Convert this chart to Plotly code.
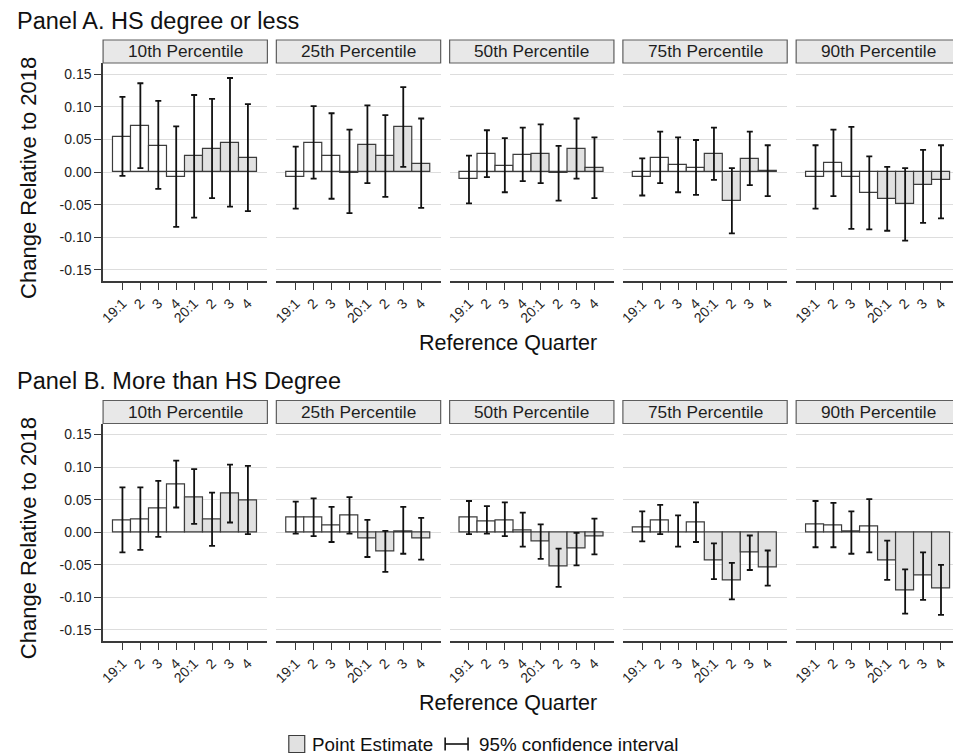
import plotly.graph_objects as go

# ---------------------------------------------------------------- data
quarters = ["19:1", "2", "3", "4", "20:1", "2", "3", "4"]
quarter_year = [2019, 2019, 2019, 2019, 2020, 2020, 2020, 2020]
percentiles = ["10th Percentile", "25th Percentile", "50th Percentile",
               "75th Percentile", "90th Percentile"]
y_tick_values = [-0.15, -0.10, -0.05, 0.0, 0.05, 0.10, 0.15]
y_tick_labels = ["-0.15", "-0.10", "-0.05", "0.00", "0.05", "0.10", "0.15"]

# Panel A. HS degree or less: point estimate, lower and upper 95% bound
a_p10_est = [0.054, 0.070, 0.040, -0.007, 0.024, 0.035, 0.044, 0.021]
a_p10_lo = [-0.006, 0.006, -0.026, -0.084, -0.070, -0.040, -0.053, -0.060]
a_p10_hi = [0.115, 0.136, 0.109, 0.070, 0.118, 0.112, 0.144, 0.104]

a_p25_est = [-0.007, 0.044, 0.024, -0.001, 0.042, 0.024, 0.069, 0.013]
a_p25_lo = [-0.056, -0.010, -0.041, -0.063, -0.017, -0.038, 0.008, -0.055]
a_p25_hi = [0.039, 0.101, 0.090, 0.065, 0.102, 0.087, 0.130, 0.082]

a_p50_est = [-0.011, 0.028, 0.009, 0.026, 0.028, -0.002, 0.036, 0.006]
a_p50_lo = [-0.048, -0.008, -0.031, -0.014, -0.017, -0.044, -0.010, -0.040]
a_p50_hi = [0.025, 0.064, 0.052, 0.068, 0.073, 0.040, 0.082, 0.053]

a_p75_est = [-0.007, 0.022, 0.011, 0.006, 0.027, -0.044, 0.020, 0.001]
a_p75_lo = [-0.036, -0.017, -0.031, -0.035, -0.012, -0.094, -0.020, -0.037]
a_p75_hi = [0.021, 0.062, 0.053, 0.049, 0.068, 0.006, 0.062, 0.041]

a_p90_est = [-0.007, 0.014, -0.008, -0.032, -0.041, -0.049, -0.020, -0.013]
a_p90_lo = [-0.056, -0.037, -0.087, -0.088, -0.090, -0.105, -0.078, -0.071]
a_p90_hi = [0.041, 0.065, 0.069, 0.024, 0.008, 0.006, 0.034, 0.041]

# Panel B. More than HS Degree
b_p10_est = [0.018, 0.020, 0.036, 0.073, 0.054, 0.019, 0.059, 0.048]
b_p10_lo = [-0.031, -0.027, -0.007, 0.038, 0.013, -0.021, 0.015, -0.003]
b_p10_hi = [0.069, 0.069, 0.079, 0.110, 0.097, 0.061, 0.104, 0.102]

b_p25_est = [0.022, 0.023, 0.011, 0.025, -0.009, -0.029, 0.001, -0.009]
b_p25_lo = [-0.002, -0.006, -0.015, -0.002, -0.038, -0.061, -0.033, -0.042]
b_p25_hi = [0.047, 0.052, 0.039, 0.054, 0.019, 0.002, 0.039, 0.022]

b_p50_est = [0.022, 0.017, 0.018, 0.003, -0.014, -0.053, -0.025, -0.007]
b_p50_lo = [-0.003, -0.002, -0.006, -0.022, -0.041, -0.084, -0.051, -0.034]
b_p50_hi = [0.048, 0.040, 0.046, 0.030, 0.012, -0.025, -0.001, 0.021]

b_p75_est = [0.008, 0.018, -0.001, 0.015, -0.044, -0.074, -0.031, -0.054]
b_p75_lo = [-0.014, -0.003, -0.022, -0.015, -0.072, -0.103, -0.058, -0.082]
b_p75_hi = [0.032, 0.042, 0.026, 0.046, -0.017, -0.047, -0.005, -0.028]

b_p90_est = [0.012, 0.011, 0.001, 0.009, -0.043, -0.090, -0.067, -0.087]
b_p90_lo = [-0.023, -0.023, -0.033, -0.031, -0.073, -0.125, -0.104, -0.127]
b_p90_hi = [0.048, 0.045, 0.032, 0.051, -0.013, -0.057, -0.031, -0.050]

panel_titles = ["Panel A. HS degree or less", "Panel B. More than HS Degree"]
panel_series = [
    [(a_p10_est, a_p10_lo, a_p10_hi), (a_p25_est, a_p25_lo, a_p25_hi),
     (a_p50_est, a_p50_lo, a_p50_hi), (a_p75_est, a_p75_lo, a_p75_hi),
     (a_p90_est, a_p90_lo, a_p90_hi)],
    [(b_p10_est, b_p10_lo, b_p10_hi), (b_p25_est, b_p25_lo, b_p25_hi),
     (b_p50_est, b_p50_lo, b_p50_hi), (b_p75_est, b_p75_lo, b_p75_hi),
     (b_p90_est, b_p90_lo, b_p90_hi)],
]

# ---------------------------------------------------------------- style
W, H = 953, 755
FONT = "Liberation Sans, Arial, Helvetica, sans-serif"
INK = "#1e1e1e"
AXIS = "#3a3a3a"
GRID = "#dddddd"
EDGE = "#3c3c3c"
FILL_2020 = "#e1e1e1"
HEAD_FILL = "#e8e8e8"
HEAD_EDGE = "#5e5e5e"
year_fill = {2019: "#ffffff", 2020: FILL_2020}

col_left = [99.5, 273.5, 447.5, 621.5, 795.5]   # facet left edges, px
col_width = 165.0
unit_px = 18.0                                  # px per quarter slot
x_start = -1.08
row_plot = [(63.0, 281.0), (423.5, 641.0)]      # plot area top/bottom, px
row_head = [(40.0, 63.0), (400.5, 423.5)]       # strip top/bottom, px
y_range = [-0.167, 0.167]


def px_x(x):
    return x / W


def px_y(y):
    return 1 - y / H


fig = go.Figure()
shapes = []
annotations = []
layout_axes = {}

k = 0
for r, series in enumerate(panel_series):
    top, bottom = row_plot[r]
    for c, (est, lo, hi) in enumerate(series):
        k += 1
        sfx = "" if k == 1 else str(k)
        left = col_left[c]
        right = min(left + col_width, W)
        xs = list(range(len(quarters)))
        fig.add_trace(go.Bar(
            x=xs, y=est, width=1.0,
            marker=dict(color=[year_fill[q] for q in quarter_year],
                        line=dict(color=EDGE, width=1.2)),
            error_y=dict(type="data", symmetric=False,
                         array=[h - e for h, e in zip(hi, est)],
                         arrayminus=[e - l for e, l in zip(est, lo)],
                         color="#111111", thickness=1.8, width=3),
            xaxis="x" + sfx, yaxis="y" + sfx,
            showlegend=False, hoverinfo="skip",
        ))
        layout_axes["xaxis" + sfx] = dict(
            domain=[px_x(left), px_x(right)],
            range=[x_start, x_start + (right - left) / unit_px],
            anchor="y" + sfx,
            tickvals=xs, ticktext=quarters, tickangle=-45,
            tickfont=dict(size=14, color=INK, family=FONT),
            ticks="outside", ticklen=7, tickwidth=1.4, tickcolor=AXIS,
            showline=True, linecolor=AXIS, linewidth=1.5,
            showgrid=False, zeroline=False, fixedrange=True,
        )
        layout_axes["yaxis" + sfx] = dict(
            domain=[px_y(bottom), px_y(top)],
            range=y_range,
            anchor="x" + sfx,
            tickvals=y_tick_values, ticktext=y_tick_labels,
            tickfont=dict(size=14, color=INK, family=FONT),
            showticklabels=(c == 0),
            ticks="outside" if c == 0 else "",
            ticklen=7, tickwidth=1.4, tickcolor=AXIS,
            showline=(c == 0), linecolor=AXIS, linewidth=1.5,
            showgrid=True, gridcolor=GRID, gridwidth=1.2,
            zeroline=False, fixedrange=True,
        )
        # facet strip with its label
        h_top, h_bot = row_head[r]
        shapes.append(dict(
            type="rect", xref="paper", yref="paper", layer="above",
            x0=px_x(left), x1=px_x(left + col_width),
            y0=px_y(h_bot), y1=px_y(h_top),
            fillcolor=HEAD_FILL, line=dict(color=HEAD_EDGE, width=1.2),
        ))
        annotations.append(dict(
            text=percentiles[c], xref="paper", yref="paper",
            x=px_x(left + col_width / 2), y=px_y((h_top + h_bot) / 2),
            xanchor="center", yanchor="middle", showarrow=False,
            font=dict(size=17.3, color=INK, family=FONT),
        ))

    # panel heading, y title and x title
    annotations.append(dict(
        text=panel_titles[r], xref="paper", yref="paper",
        x=px_x(11), y=px_y(row_head[r][0] - 19.5),
        xanchor="left", yanchor="middle", showarrow=False,
        font=dict(size=23.5, color="#111111", family=FONT),
    ))
    annotations.append(dict(
        text="Change Relative to 2018", xref="paper", yref="paper",
        x=px_x(24), y=px_y((top + bottom) / 2 + 6),
        xanchor="center", yanchor="middle", textangle=-90, showarrow=False,
        font=dict(size=22, color="#111111", family=FONT),
    ))
    annotations.append(dict(
        text="Reference Quarter", xref="paper", yref="paper",
        x=px_x(506), y=px_y(bottom + 62),
        xanchor="center", yanchor="middle", showarrow=False,
        font=dict(size=21.5, color="#111111", family=FONT),
    ))

# legend row: shaded swatch, CI glyph and their labels
leg_y = 744.0
shapes.append(dict(
    type="rect", xref="paper", yref="paper",
    x0=px_x(286), x1=px_x(302), y0=px_y(leg_y + 8.5), y1=px_y(leg_y - 8.5),
    fillcolor=FILL_2020, line=dict(color=EDGE, width=1.2),
))
annotations.append(dict(
    text="Point Estimate", xref="paper", yref="paper",
    x=px_x(307), y=px_y(leg_y), xanchor="left", yanchor="middle",
    showarrow=False, font=dict(size=18.8, color="#111111", family=FONT),
))
for seg in [(443, leg_y, 466, leg_y), (443, leg_y - 6.5, 443, leg_y + 6.5),
            (466, leg_y - 6.5, 466, leg_y + 6.5)]:
    shapes.append(dict(
        type="line", xref="paper", yref="paper",
        x0=px_x(seg[0]), y0=px_y(seg[1]), x1=px_x(seg[2]), y1=px_y(seg[3]),
        line=dict(color="#111111", width=1.6),
    ))
annotations.append(dict(
    text="95% confidence interval", xref="paper", yref="paper",
    x=px_x(475), y=px_y(leg_y), xanchor="left", yanchor="middle",
    showarrow=False, font=dict(size=18.8, color="#111111", family=FONT),
))

fig.update_layout(
    width=W, height=H,
    margin=dict(l=0, r=0, t=0, b=0),
    paper_bgcolor="white", plot_bgcolor="white",
    font=dict(family=FONT, color=INK),
    barmode="overlay", bargap=0,
    shapes=shapes, annotations=annotations,
    **layout_axes,
)

fig.write_html("out.html", config={"displayModeBar": False})
